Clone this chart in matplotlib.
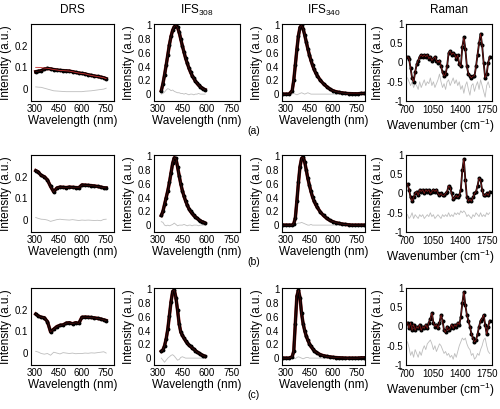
import matplotlib
matplotlib.use("Agg")
import matplotlib.pyplot as plt

plt.rcParams["font.family"] = ["Liberation Sans", "DejaVu Sans"]
plt.rcParams["mathtext.default"] = "regular"

# ---- data ----
drs_wl = [305, 320, 340, 360, 380, 400, 420, 440, 460, 480, 500, 520,
          540, 560, 580, 600, 620, 640, 660, 680, 700, 720, 740, 755]
drs_a = [0.080, 0.082, 0.085, 0.092, 0.095, 0.093, 0.090, 0.088, 0.086, 0.085, 0.084, 0.083,
         0.080, 0.077, 0.074, 0.072, 0.070, 0.066, 0.063, 0.060, 0.058, 0.055, 0.052, 0.048]
drs_a_fit = [0.100, 0.100, 0.099, 0.097, 0.096, 0.093, 0.090, 0.088, 0.086, 0.085, 0.084, 0.083,
             0.080, 0.077, 0.074, 0.072, 0.070, 0.066, 0.063, 0.060, 0.058, 0.055, 0.052, 0.048]
drs_a_res = [0.010, 0.009, 0.008, 0.004, 0.000, -0.004, -0.008, -0.009, -0.010, -0.011, -0.012, -0.012,
             -0.012, -0.012, -0.012, -0.012, -0.010, -0.009, -0.008, -0.006, -0.004, -0.002, 0.000, 0.004]
drs_b = [0.228, 0.222, 0.206, 0.200, 0.185, 0.155, 0.130, 0.148, 0.152, 0.151, 0.150, 0.152,
         0.151, 0.150, 0.149, 0.162, 0.161, 0.160, 0.159, 0.157, 0.155, 0.152, 0.149, 0.148]
drs_b_res = [0.012, 0.008, 0.004, 0.003, 0.000, -0.006, -0.002, 0.002, 0.004, 0.002, 0.001, 0.000,
             0.002, 0.000, -0.002, 0.000, -0.001, 0.000, -0.001, -0.002, -0.001, -0.003, 0.003, 0.004]
drs_c = [0.180, 0.172, 0.165, 0.163, 0.145, 0.098, 0.110, 0.122, 0.128, 0.130, 0.138, 0.140,
         0.135, 0.140, 0.137, 0.165, 0.166, 0.165, 0.164, 0.162, 0.160, 0.157, 0.153, 0.150]
drs_c_res = [0.008, 0.005, -0.002, -0.005, -0.002, -0.010, 0.004, 0.000, -0.004, 0.002, 0.000, -0.002,
             0.000, -0.003, -0.002, -0.002, 0.000, -0.001, 0.001, 0.000, 0.002, 0.004, 0.006, 0.000]

ifs308_wl = [320, 330, 340, 350, 360, 370, 380, 390, 400, 410, 420, 430, 440, 450,
             460, 470, 480, 490, 500, 510, 520, 530, 540, 550, 560, 570, 580, 590]
ifs308_a = [0.05, 0.15, 0.28, 0.42, 0.57, 0.72, 0.84, 0.93, 0.98, 1.00, 0.97, 0.90, 0.80, 0.70,
            0.61, 0.52, 0.45, 0.38, 0.32, 0.27, 0.23, 0.19, 0.16, 0.13, 0.11, 0.09, 0.075, 0.065]
ifs308_a_res = [0.00, 0.01, 0.03, 0.06, 0.08, 0.07, 0.05, 0.06, 0.04, 0.03, 0.02, 0.02, 0.01, 0.01,
                0.00, 0.01, 0.00, -0.01, 0.00, 0.00, -0.01, 0.00, 0.00, 0.01, 0.00, 0.00, 0.00, 0.00]
ifs308_b = [0.14, 0.20, 0.30, 0.40, 0.50, 0.62, 0.76, 0.90, 0.98, 0.97, 0.85, 0.72, 0.60, 0.50,
            0.42, 0.35, 0.29, 0.24, 0.20, 0.17, 0.14, 0.12, 0.10, 0.08, 0.065, 0.05, 0.04, 0.03]
ifs308_b_res = [0.05, 0.04, 0.00, -0.01, 0.00, -0.01, 0.00, 0.01, 0.03, 0.01, -0.01, 0.00, 0.00, 0.00,
                0.01, 0.00, -0.01, 0.00, 0.00, -0.01, 0.00, 0.00, 0.00, -0.01, 0.00, 0.00, 0.00, 0.00]
ifs308_c = [0.10, 0.12, 0.18, 0.28, 0.42, 0.62, 0.82, 0.97, 0.99, 0.88, 0.70, 0.50, 0.38, 0.33,
            0.29, 0.25, 0.22, 0.19, 0.17, 0.15, 0.13, 0.11, 0.09, 0.075, 0.06, 0.045, 0.035, 0.025]
ifs308_c_res = [0.00, -0.03, -0.06, -0.03, 0.00, 0.02, 0.04, 0.05, 0.03, 0.00, -0.03, -0.02, 0.01, 0.02,
                0.01, 0.00, 0.00, 0.00, 0.00, 0.00, 0.00, 0.00, 0.00, 0.00, 0.00, 0.00, 0.00, 0.00]

ifs340_wl = [280, 300, 320, 340, 350, 360, 370, 380, 390, 400, 410, 420, 430, 440, 450, 460, 470, 480,
             490, 500, 520, 540, 560, 580, 600, 620, 640, 660, 680, 700, 720, 740, 760, 780, 800]
ifs340_a = [0.0, 0.0, 0.0, 0.05, 0.20, 0.42, 0.65, 0.85, 0.97, 1.00, 0.95, 0.86, 0.76, 0.66, 0.57, 0.49, 0.42, 0.36,
            0.31, 0.27, 0.20, 0.15, 0.11, 0.075, 0.05, 0.035, 0.025, 0.018, 0.012, 0.008, 0.006, 0.005, 0.005, 0.01, 0.01]
ifs340_a_res = [0.0, 0.0, 0.0, 0.0, 0.01, 0.0, -0.01, 0.0, 0.01, 0.02, 0.01, 0.0, 0.01, 0.02, 0.01, 0.0, 0.0, 0.0,
                0.0, 0.0, 0.0, 0.0, 0.0, 0.0, 0.0, 0.0, 0.0, 0.0, 0.0, 0.0, 0.0, 0.0, 0.0, 0.0, 0.0]
ifs340_b = [0.0, 0.0, 0.0, 0.0, 0.02, 0.10, 0.35, 0.62, 0.85, 0.97, 0.99, 0.92, 0.80, 0.68, 0.58, 0.49, 0.41, 0.35,
            0.30, 0.26, 0.19, 0.14, 0.10, 0.07, 0.05, 0.035, 0.025, 0.015, 0.01, 0.005, 0.0, 0.0, 0.0, 0.0, 0.0]
ifs340_b_res = [0.0, 0.0, 0.0, 0.0, 0.0, 0.01, 0.02, 0.03, 0.03, 0.04, 0.03, 0.02, 0.01, 0.0, 0.0, 0.01, 0.0, 0.0,
                0.0, 0.0, 0.0, 0.0, 0.0, 0.0, 0.0, 0.0, 0.0, 0.0, 0.0, 0.0, 0.0, 0.0, 0.0, 0.0, 0.0]
ifs340_c = [0.0, 0.0, 0.0, 0.02, 0.10, 0.50, 0.90, 0.99, 0.88, 0.65, 0.50, 0.40, 0.32, 0.26, 0.21, 0.17, 0.14, 0.11,
            0.09, 0.075, 0.05, 0.035, 0.025, 0.018, 0.012, 0.008, 0.005, 0.003, 0.0, 0.0, 0.0, 0.0, 0.0, 0.005, 0.005]
ifs340_c_res = [0.0, 0.0, 0.0, 0.0, 0.0, -0.01, 0.01, 0.02, 0.01, 0.0, -0.01, 0.0, 0.01, 0.01, 0.0, 0.0, 0.0, 0.0,
                0.0, 0.0, 0.0, 0.0, 0.0, 0.0, 0.0, 0.0, 0.0, 0.0, 0.0, 0.0, 0.0, 0.0, 0.0, 0.0, 0.0]

raman_wn = [710, 730, 750, 770, 790, 810, 830, 850, 870, 890, 910, 930, 950, 970, 990,
            1010, 1030, 1050, 1070, 1090, 1110, 1130, 1150, 1170, 1190, 1210, 1230, 1250, 1270, 1290,
            1310, 1330, 1350, 1370, 1390, 1410, 1430, 1450, 1470, 1490, 1510, 1530, 1550, 1570, 1590,
            1610, 1630, 1650, 1670, 1690, 1710, 1730, 1750, 1770, 1790]
raman_a = [0.15, 0.10, -0.15, -0.40, -0.50, -0.25, -0.05, 0.05, 0.15, 0.20, 0.15, 0.20, 0.15, 0.20, 0.10,
           0.15, 0.05, 0.10, 0.15, 0.05, 0.00, 0.05, -0.10, -0.25, -0.35, -0.30, -0.10, 0.25, 0.30, 0.20,
           0.25, 0.20, 0.10, 0.20, -0.05, -0.10, 0.40, 0.65, 0.35, -0.10, -0.30, -0.35, -0.40, -0.35, -0.35,
           -0.10, 0.20, 0.50, 0.75, 0.45, 0.00, -0.40, -0.30, 0.00, 0.15]
raman_a_res = [-0.40, -0.50, -0.60, -0.50, -0.65, -0.55, -0.60, -0.70, -0.50, -0.65, -0.55, -0.45, -0.60, -0.50, -0.55,
               -0.40, -0.60, -0.50, -0.65, -0.55, -0.45, -0.30, -0.50, -0.65, -0.55, -0.70, -0.50, -0.45, -0.60, -0.50,
               -0.40, -0.55, -0.45, -0.60, -0.50, -0.70, -0.60, -0.80, -0.60, -0.50, -0.70, -0.85, -0.60, -0.55, -0.75,
               -0.60, -0.50, -0.70, -0.45, -0.60, -0.75, -0.90, -0.60, -0.50, -0.65]
raman_b = [0.25, 0.10, -0.10, -0.20, -0.10, 0.00, 0.05, -0.05, 0.10, 0.05, 0.10, 0.00, 0.10, 0.05, 0.10,
           0.00, 0.05, 0.10, 0.05, 0.10, 0.00, -0.05, 0.00, -0.05, -0.05, 0.00, 0.05, 0.20, 0.15, 0.00,
           -0.15, -0.10, -0.05, -0.10, -0.05, 0.10, 0.60, 0.90, 0.35, -0.10, -0.20, -0.15, -0.20, -0.10, 0.00,
           0.05, 0.20, 0.40, 0.35, 0.10, -0.05, -0.05, 0.00, -0.05, 0.05]
raman_b_res = [-0.55, -0.65, -0.60, -0.50, -0.65, -0.55, -0.60, -0.65, -0.55, -0.60, -0.55, -0.65, -0.60, -0.55, -0.60,
               -0.50, -0.60, -0.55, -0.65, -0.60, -0.55, -0.60, -0.65, -0.55, -0.60, -0.55, -0.60, -0.50, -0.60, -0.55,
               -0.60, -0.50, -0.55, -0.50, -0.55, -0.45, -0.50, -0.45, -0.50, -0.60, -0.55, -0.60, -0.65, -0.55, -0.60,
               -0.50, -0.55, -0.60, -0.50, -0.60, -0.55, -0.60, -0.50, -0.55, -0.50]
raman_c = [0.10, -0.05, 0.10, -0.10, 0.05, -0.10, 0.00, -0.05, 0.05, -0.10, 0.00, -0.05, 0.05, -0.05, 0.10,
           0.20, 0.35, 0.10, 0.00, 0.05, -0.05, 0.10, 0.30, 0.15, -0.10, -0.15, 0.00, -0.10, -0.05, 0.05,
           -0.05, 0.05, 0.00, 0.10, 0.05, 0.25, 0.60, 0.90, 0.55, 0.30, 0.15, 0.00, -0.20, -0.30, -0.40,
           -0.35, -0.20, 0.00, 0.15, 0.20, 0.30, 0.05, -0.20, 0.00, 0.15]
raman_c_res = [-0.40, -0.55, -0.75, -0.65, -0.80, -0.60, -0.70, -0.80, -0.65, -0.75, -0.60, -0.50, -0.60, -0.45, -0.40,
               -0.35, -0.45, -0.60, -0.50, -0.65, -0.55, -0.45, -0.50, -0.60, -0.70, -0.65, -0.75, -0.70, -0.80, -0.75,
               -0.85, -0.70, -0.80, -0.65, -0.50, -0.40, -0.30, -0.35, -0.30, -0.45, -0.55, -0.60, -0.75, -0.70, -0.85,
               -0.80, -0.70, -0.75, -0.60, -0.50, -0.35, -0.30, -0.50, -0.65, -0.70]

col_titles = ["DRS", "IFS$_{308}$", "IFS$_{340}$", "Raman"]
row_tags = ["(a)", "(b)", "(c)"]
wl_ticks = [300, 450, 600, 750]
wn_ticks = [700, 1050, 1400, 1750]

W, H = 500, 409
fig = plt.figure(figsize=(W / 100, H / 100), dpi=100)

col_left = [31, 154, 282, 406]
col_width = [83, 86, 83, 86]
row_top = [24, 155, 288]
ax_h = 77


def make_ax(r, c):
    ax = fig.add_axes([col_left[c] / W, 1 - (row_top[r] + ax_h) / H, col_width[c] / W, ax_h / H])
    ax.tick_params(length=0, pad=2, labelsize=7)
    for s in ax.spines.values():
        s.set_linewidth(0.8)
    ax.set_ylabel("Intensity (a.u.)", fontsize=8.5, labelpad=2)
    return ax


def draw(ax, x, y, res, fit=None, dense=True):
    ax.plot(x, res, color="#bdbdbd", lw=0.6)
    if dense:
        # fit line under the data, it only peeks out at the edges
        ax.plot(x, y, color="#8b1a1a", lw=2.5)
        ax.plot(x, y, color="black", lw=2.0, marker="o", ms=1.8)
        ax.plot(x, y, color="#7a1010", lw=0.4, alpha=0.8)
        if fit is not None:
            ax.plot(x, fit, color="#c03030", lw=0.6)
    else:
        ax.plot(x, y, color="black", lw=1.3, marker="o", ms=1.9)
        ax.plot(x, y, color="#8b1a1a", lw=0.5)


drs_rows = [(drs_a, drs_a_res, drs_a_fit), (drs_b, drs_b_res, None), (drs_c, drs_c_res, None)]
ifs308_rows = [(ifs308_a, ifs308_a_res), (ifs308_b, ifs308_b_res), (ifs308_c, ifs308_c_res)]
ifs340_rows = [(ifs340_a, ifs340_a_res), (ifs340_b, ifs340_b_res), (ifs340_c, ifs340_c_res)]
raman_rows = [(raman_a, raman_a_res), (raman_b, raman_b_res), (raman_c, raman_c_res)]

for r in range(3):
    # DRS
    ax = make_ax(r, 0)
    y, res, fit = drs_rows[r]
    draw(ax, drs_wl, y, res, fit)
    ax.set_xlim(275, 805)
    ax.set_ylim(-0.055, 0.3)
    ax.set_yticks([0, 0.1, 0.2])
    ax.set_yticklabels(["0", "0.1", "0.2"])
    ax.set_xticks(wl_ticks)
    ax.set_xlabel("Wavelength (nm)", fontsize=8.5, labelpad=1)

    # IFS 308 / 340
    for c, (wl, rows) in ((1, (ifs308_wl, ifs308_rows)), (2, (ifs340_wl, ifs340_rows))):
        ax = make_ax(r, c)
        y, res = rows[r]
        draw(ax, wl, y, res)
        ax.set_xlim(275, 805)
        ax.set_ylim(-0.1, 1.02)
        ax.set_yticks([0, 0.2, 0.4, 0.6, 0.8, 1])
        ax.set_yticklabels(["0", "0.2", "0.4", "0.6", "0.8", "1"])
        ax.set_xticks(wl_ticks)
        ax.set_xlabel("Wavelength (nm)", fontsize=8.5, labelpad=1)

    # Raman
    ax = make_ax(r, 3)
    y, res = raman_rows[r]
    draw(ax, raman_wn, y, res, dense=False)
    ax.set_xlim(690, 1820)
    ax.set_ylim(-1, 1)
    ax.set_yticks([-1, -0.5, 0, 0.5, 1])
    ax.set_yticklabels(["-1", "-0.5", "0", "0.5", "1"])
    ax.set_xticks(wn_ticks)
    ax.tick_params(axis="x", pad=3)
    ax.set_xlabel("Wavenumber (cm$^{-1}$)", fontsize=8.6, labelpad=1)
    ax.xaxis.set_label_coords(0.40, -0.2)

    if r == 0:
        for c, t in enumerate(col_titles):
            fig.text((col_left[c] + col_width[c] / 2) / W, 1 - 10 / H, t,
                     ha="center", va="center", fontsize=8.5)

    fig.text(247 / W, 1 - (row_top[r] + 107) / H, row_tags[r], ha="left", va="center", fontsize=7.5)

fig.savefig("out.png", dpi=100)
